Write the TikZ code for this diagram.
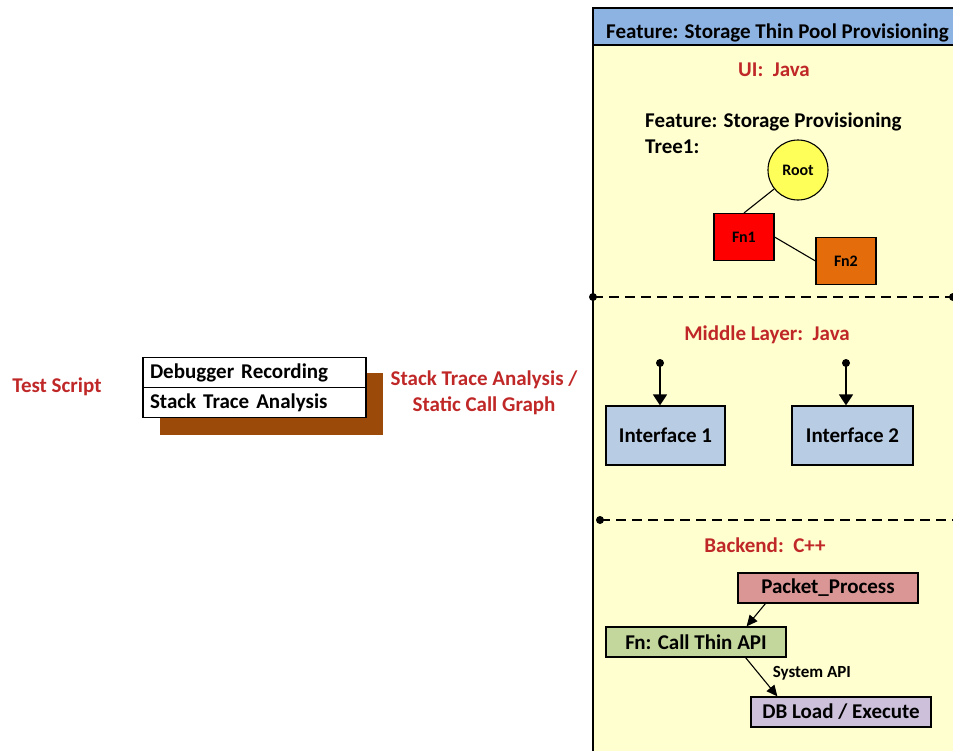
\documentclass[tikz,border=0pt]{standalone}
\usepackage{fontspec}
\setmainfont{Carlito}
\usetikzlibrary{arrows.meta,calc}
\definecolor{panelfill}{RGB}{255,255,208}
\definecolor{headfill}{RGB}{141,179,226}
\definecolor{labelred}{RGB}{192,40,40}
\definecolor{ifacefill}{RGB}{184,204,228}
\definecolor{fnonefill}{RGB}{255,0,0}
\definecolor{fntwofill}{RGB}{228,108,10}
\definecolor{rootfill}{RGB}{255,255,90}
\definecolor{packetfill}{RGB}{217,150,148}
\definecolor{callfill}{RGB}{195,214,155}
\definecolor{dbfill}{RGB}{204,192,218}
\definecolor{shadowbrown}{RGB}{156,74,10}
\tikzset{
  txt/.style={font=\bfseries\fontsize{21}{23}\selectfont, inner sep=0pt},
  redtxt/.style={txt, text=labelred},
  smalltxt/.style={font=\bfseries\fontsize{16}{18}\selectfont, inner sep=0pt},
  box/.style={draw=black, line width=1.2pt, rectangle, inner sep=0pt, txt},
  conn/.style={line width=1.1pt},
  arr/.style={line width=1.6pt, -{Triangle[length=11pt,width=14pt]}},
  dot/.style={circle, fill=black, inner sep=0pt, minimum size=8pt},
  layerline/.style={line width=1.3pt, dash pattern=on 10pt off 6pt}
}
\begin{document}
\begin{tikzpicture}[x=1pt,y=-1pt]
\useasboundingbox (0,0) rectangle (953,750);

% feature panel
\fill[panelfill] (593,8) rectangle (960,760);
\fill[headfill] (593,8) rectangle (960,45);
\draw[line width=1.2pt] (960,8) -- (593,8) -- (593,760);
\draw[line width=1.2pt] (593,45) -- (960,45);
\node[txt, anchor=base west] (head) at (606,38) {Feature: Storage Thin Pool Provisioning};

% UI layer
\node[redtxt] (ui) at (774,70) {UI:\ \ Java};
\node[txt, anchor=base west] (feat) at (645,127) {Feature: Storage Provisioning};
\node[txt, anchor=base west] (tree) at (645,153) {Tree1:};
\node[circle, draw=black, line width=1.1pt, fill=rootfill, minimum size=60pt, inner sep=0pt, smalltxt] (root) at (798,170) {Root};
\node[rectangle, draw=black, line width=1.1pt, fill=fnonefill, minimum width=60pt, minimum height=47pt, smalltxt] (fn1) at (744,237) {Fn1};
\node[rectangle, draw=black, line width=1.1pt, fill=fntwofill, minimum width=60pt, minimum height=47pt, smalltxt] (fn2) at (846,261) {Fn2};
\draw[conn] (root) -- (fn1.north);
\draw[conn] (fn1.east) -- (fn2.west);

% layer separator 1
\coordinate (s1a) at (593,297);
\coordinate (s1b) at (953,297);
\draw[layerline] (s1a) -- (s1b);
\node[dot] at (s1a) {};
\node[dot] at (s1b) {};

% middle layer
\node[redtxt] (mid) at (767,335) {Middle Layer:\ \ Java};
\node[box, fill=ifacefill, minimum width=119pt, minimum height=59pt] (if1) at (665.5,435.5) {Interface 1};
\node[box, fill=ifacefill, minimum width=121pt, minimum height=59pt] (if2) at (852.5,435.5) {Interface 2};
\node[dot] (d1) at (660,363) {};
\node[dot] (d2) at (846,363) {};
\draw[arr] (d1.center) -- (d1.center |- if1.north);
\draw[arr] (d2.center) -- (d2.center |- if2.north);

% layer separator 2
\coordinate (s2a) at (600,520);
\coordinate (s2b) at (953,520);
\draw[layerline] (s2a) -- (s2b);
\node[dot] at (s2a) {};

% backend
\node[redtxt] (back) at (765,545) {Backend:\ \ C++};
\node[box, fill=packetfill, minimum width=180pt, minimum height=30pt] (pp) at (828,588) {Packet\_Process};
\node[box, fill=callfill, minimum width=180pt, minimum height=30pt] (call) at (696,642) {Fn: Call Thin API};
\node[box, fill=dbfill, minimum width=180pt, minimum height=30pt] (db) at (841,712) {DB Load / Execute};
\draw[line width=1.1pt, -{Triangle[length=11pt,width=10pt]}] ($(pp.south west)+(28,0)$) -- ($(call.north east)-(40,0)$);
\draw[line width=1.1pt, -{Triangle[length=11pt,width=10pt]}] ($(call.south east)-(41,0)$) -- ($(db.north west)+(27,0)$)
  node[pos=0.4, right=14pt, font=\bfseries\fontsize{17}{19}\selectfont, inner sep=0pt] (sysapi) {System API};

% left side
\node[redtxt] (ts) at (57,387) {Test Script};
\fill[shadowbrown] (160,373) rectangle (383,435);
\node[box, fill=white, minimum width=223pt, minimum height=30pt, text width=209pt, align=left] (dbg) at (254.5,372.5) {Debugger Recording};
\node[box, fill=white, minimum width=223pt, minimum height=30pt, text width=209pt, align=left] (sta) at (254.5,402.5) {Stack Trace Analysis};
\node[redtxt, align=center, font=\bfseries\fontsize{21}{26}\selectfont] (sta2) at (484,393) {Stack Trace Analysis /\\Static Call Graph};
\end{tikzpicture}
\end{document}
